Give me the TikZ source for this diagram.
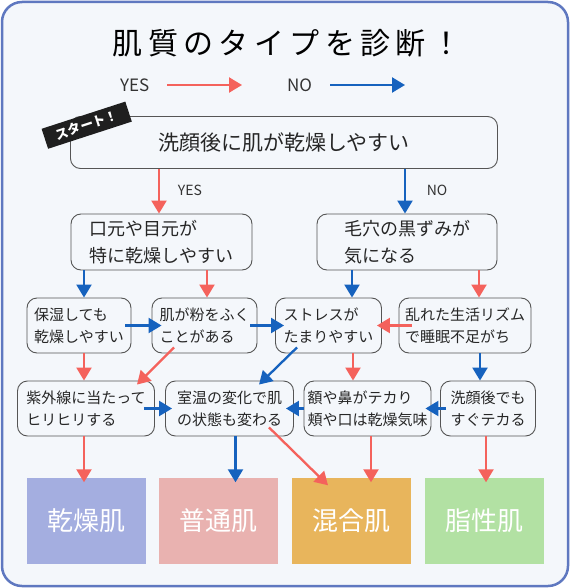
\documentclass[tikz,border=0pt]{standalone}
\usepackage{fontspec}
\setmainfont{Noto Sans CJK JP}
\usetikzlibrary{arrows.meta,calc}
\definecolor{bgc}{HTML}{F4F7FB}
\definecolor{framec}{HTML}{5F78C0}
\definecolor{yesc}{HTML}{F4625C}
\definecolor{noc}{HTML}{1662BE}
\definecolor{boxc}{HTML}{555555}
\definecolor{dryc}{HTML}{A4AEE0}
\definecolor{normc}{HTML}{E9B2B0}
\definecolor{mixc}{HTML}{E8B55C}
\definecolor{oilc}{HTML}{B2E1A3}
\tikzset{
  qbox/.style={draw=boxc, line width=0.9pt, rounded corners=10pt, fill=bgc, align=left, inner sep=0pt, text=black!85},
  big/.style={qbox, font=\fontsize{18}{27}\selectfont},
  small/.style={qbox, font=\fontsize{15}{22}\selectfont},
  result/.style={draw=none, inner sep=0pt, text=white, font=\fontsize{26}{30}\selectfont},
  yes/.style={draw=yesc, line width=2.3pt, -{Triangle[length=13pt,width=15pt]}},
  no/.style={draw=noc, line width=2.3pt, -{Triangle[length=13pt,width=15pt]}},
  lbl/.style={font=\fontsize{14}{16}\selectfont, text=black!80, inner sep=0pt},
}
\begin{document}
\begin{tikzpicture}[x=1pt,y=-1pt]
\useasboundingbox (0,0) rectangle (570,588);
\draw[framec, line width=2.5pt, fill=bgc, rounded corners=20pt] (2,2) rectangle (568,586);

% title
\node (title) at (287,43) {\fontsize{30}{34}\selectfont\addfontfeature{LetterSpace=18}肌質のタイプを診断！};

% legend
\node[lbl, font=\fontsize{17}{20}\selectfont, anchor=west] (ly) at (120,85) {YES};
\coordinate (lya) at (167,85);
\coordinate (lyb) at (242,85);
\draw[yes] (lya) -- (lyb);
\node[lbl, font=\fontsize{17}{20}\selectfont, anchor=west] (ln) at (287,85) {NO};
\coordinate (lna) at (330,85);
\coordinate (lnb) at (405,85);
\draw[no] (lna) -- (lnb);

% start
\node[qbox, minimum width=427pt, minimum height=52pt, font=\fontsize{21}{24}\selectfont] (start) at (284,142.5) {洗顔後に肌が乾燥しやすい};
\node[fill=black!88, text=white, rotate=18, minimum width=88pt, minimum height=21pt, inner sep=0pt, font=\fontsize{13}{14}\selectfont\bfseries] (st) at (86.7,125.2) {スタート！};

% level 1
\node[big, minimum width=181pt, minimum height=56pt] (A) at (161.5,242) {口元や目元が\\特に乾燥しやすい};
\node[big, minimum width=180pt, minimum height=56pt] (B) at (407,242) {毛穴の黒ずみが\\気になる};

% level 2
\node[small, minimum width=104pt, minimum height=55pt] (C) at (79,325.5) {保湿しても\\乾燥しやすい};
\node[small, minimum width=105pt, minimum height=55pt] (D) at (204.5,325.5) {肌が粉をふく\\ことがある};
\node[small, minimum width=106pt, minimum height=55pt] (E) at (328.5,325.5) {ストレスが\\たまりやすい};
\node[small, minimum width=132pt, minimum height=55pt] (F) at (465,325.5) {乱れた生活リズム\\で睡眠不足がち};

% level 3
\node[small, minimum width=137pt, minimum height=55pt] (G) at (86,408.5) {紫外線に当たって\\ヒリヒリする};
\node[small, minimum width=128pt, minimum height=55pt] (H) at (229.5,408.5) {室温の変化で肌\\の状態も変わる};
\node[small, minimum width=127pt, minimum height=55pt] (I) at (367.5,408.5) {額や鼻がテカり\\頬や口は乾燥気味};
\node[small, minimum width=95pt, minimum height=55pt] (J) at (488,408.5) {洗顔後でも\\すぐテカる};

% results
\node[result, fill=dryc, minimum width=119pt, minimum height=86pt] (K1) at (86,520.5) {乾燥肌};
\node[result, fill=normc, minimum width=119pt, minimum height=86pt] (K2) at (218.5,520.5) {普通肌};
\node[result, fill=mixc, minimum width=119pt, minimum height=86pt] (K3) at (351.5,520.5) {混合肌};
\node[result, fill=oilc, minimum width=119pt, minimum height=86pt] (K4) at (484.5,520.5) {脂性肌};

% start branches
\draw[yes] (start.south -| 159,0) -- (A.north -| 159,0);
\node[lbl] (yl) at (190,190) {YES};
\draw[no] (start.south -| 405,0) -- (B.north -| 405,0);
\node[lbl] (nl) at (437,190) {NO};

% level 1 -> level 2
\draw[no] (A.south -| 84,0) -- (C.north -| 84,0);
\draw[yes] (A.south -| 207,0) -- (D.north -| 207,0);
\draw[no] (B.south -| 352,0) -- (E.north -| 352,0);
\draw[yes] (B.south -| 479,0) -- (F.north -| 479,0);

% level 2 horizontal
\draw[no] ([xshift=-6pt]C.east) -- ([xshift=10pt]D.west);
\draw[no] ([xshift=-7pt]D.east) -- ([xshift=9pt]E.west);
\draw[yes] ([xshift=13pt]F.west) -- ([xshift=-5pt]E.east);

% level 2 -> level 3
\draw[yes] (C.south -| 84,0) -- (G.north -| 84,0);
\draw[yes] ($(D.south -| 174,0)+(0,-6)$) -- ($(G.north -| 137,0)+(0,4)$);
\draw[no] ($(E.south -| 297,0)+(0,-6)$) -- ($(H.north -| 259,0)+(0,4)$);
\draw[yes] (E.south -| 353,0) -- (I.north -| 353,0);
\draw[no] (F.south -| 480,0) -- (J.north -| 480,0);

% level 3 horizontal
\draw[no] ([xshift=-11pt]G.east) -- ([xshift=7pt]H.west);
\draw[no] (I.west) -- ([xshift=-8pt]H.east);
\draw[no] ([xshift=6pt]J.west) -- ([xshift=-6pt]I.east);

% level 3 -> results
\draw[yes] (G.south -| 84,0) -- ($(K1.north -| 84,0)+(0,5)$);
\draw[no] (H.south -| 235.5,0) -- ($(K2.north -| 235.5,0)+(0,5)$);
\draw[yes] ($(H.south -| 269,0)+(0,-9)$) -- ($(K3.north -| 328,0)+(0,8)$);
\draw[yes] (I.south -| 371,0) -- ($(K3.north -| 371,0)+(0,5)$);
\draw[yes] (J.south -| 486,0) -- ($(K4.north -| 486,0)+(0,5)$);
\end{tikzpicture}
\end{document}
